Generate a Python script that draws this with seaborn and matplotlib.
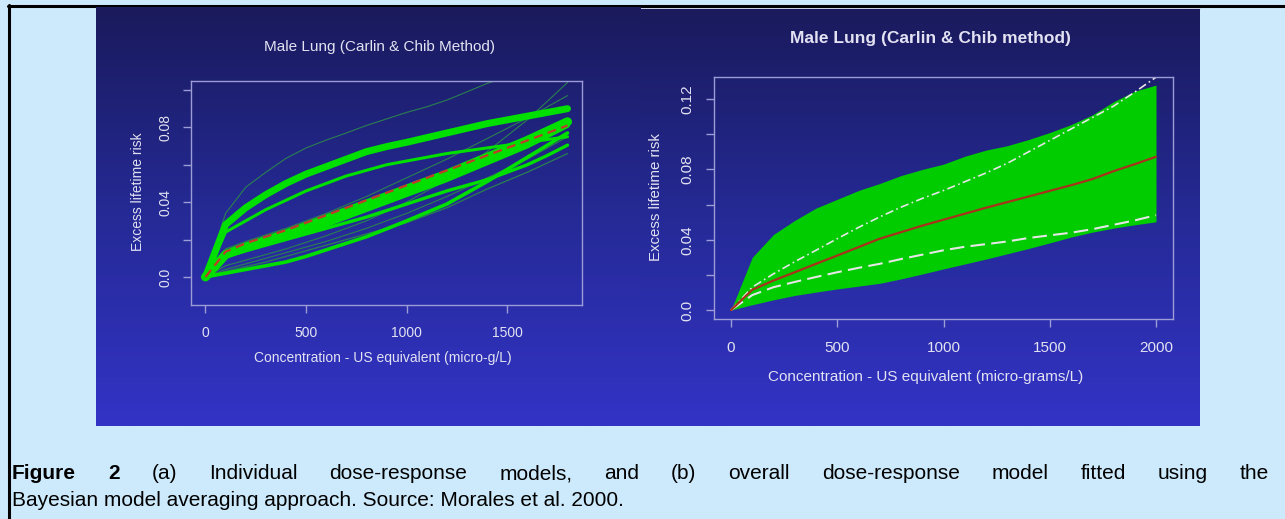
import numpy as np
import pandas as pd
import matplotlib
matplotlib.use("Agg")
import matplotlib.pyplot as plt
import seaborn as sns

# ---- data ----
# (a) individual dose-response models, concentration in micro-g/L
conc_a = list(range(0, 1801, 100))
thin_top = [0, .034, .048, .056, .0634, .069, .0732, .077, .081, .0845, .088,
            .091, .0946, .099, .1035, .107, .110, .113, .116]
thick_top = [0, .028, .037, .044, .050, .055, .059, .063, .067, .0697, .072,
             .0745, .077, .0795, .082, .084, .086, .088, .090]
upper_mid = [0, .024, .030, .036, .041, .046, .050, .054, .057, .060, .062,
             .064, .066, .0675, .069, .0705, .072, .0735, .075]
main_fit = [0, .012, .016, .0195, .023, .027, .031, .035, .039, .043, .047,
            .051, .055, .0595, .064, .0685, .073, .078, .083]
main_fit2 = [0, .011, .0145, .0178, .021, .0245, .028, .032, .036, .040, .044,
             .048, .052, .0565, .061, .0655, .070, .0755, .081]
lower_mid = [0, .011, .014, .017, .020, .023, .026, .029, .032, .0355, .039,
             .0425, .046, .049, .052, .056, .060, .065, .0705]
convex = [0, .002, .004, .006, .008, .011, .0145, .018, .0215, .0257, .030,
          .0345, .039, .045, .051, .0575, .064, .0705, .077]
thin_low = [0, .003, .0055, .008, .011, .014, .017, .020, .023, .026, .029,
            .033, .037, .042, .047, .0515, .056, .061, .066]
thin_mid = [0, .015, .019, .0225, .026, .030, .034, .0385, .043, .048, .053,
            .058, .063, .0685, .074, .0795, .085, .091, .097]
thin_steep = [0, .006, .009, .012, .015, .0185, .022, .026, .030, .035, .040,
              .046, .052, .0595, .067, .0755, .084, .094, .104]
thin_lowmid = [0, .004, .007, .010, .013, .016, .019, .0225, .026, .030, .034,
               .0385, .043, .048, .053, .058, .063, .069, .075]
mean_a = [0, .0135, .018, .0215, .025, .029, .033, .037, .041, .045, .049,
          .053, .057, .061, .065, .069, .073, .077, .081]

# (b) model-averaged fit, concentration in micro-grams/L
conc_b = list(range(0, 2001, 100))
band_hi = [0, .030, .043, .051, .058, .063, .068, .072, .0765, .080, .083,
           .0875, .091, .0935, .097, .101, .1055, .111, .1185, .1245, .128]
band_lo = [0, .003, .0058, .0083, .0102, .012, .0136, .0152, .0177, .0205, .0234,
           .0262, .029, .032, .035, .0382, .0415, .0443, .0466, .0485, .0502]
median_b = [0, .0115, .0168, .0215, .0263, .031, .0358, .0406, .0443, .048, .0514,
            .0548, .0582, .0614, .0646, .0678, .071, .0745, .079, .083, .0872]
upper_b = [0, .013, .0206, .0275, .034, .0406, .047, .053, .0585, .0635, .068,
           .073, .078, .0835, .090, .0965, .103, .1095, .116, .124, .1325]
lower_b = [0, .0085, .013, .016, .0188, .0215, .024, .0263, .029, .0315, .034,
           .036, .0375, .039, .041, .0425, .044, .046, .0485, .051, .054]

xticks_a = [0, 500, 1000, 1500]
xticks_b = [0, 500, 1000, 1500, 2000]
yticks_a = [0, .02, .04, .06, .08, .10]
ylabels_a = ["0.0", "", "0.04", "", "0.08", ""]
yticks_b = [0, .02, .04, .06, .08, .10, .12]
ylabels_b = ["0.0", "", "0.04", "", "0.08", "", "0.12"]

caption1_bold = "Figure 2"
caption1 = "(a) Individual dose-response models, and (b) overall dose-response model fitted using the"
caption2 = "Bayesian model averaging approach. Source: Morales et al. 2000."

# ---- styling ----
sns.set_theme(style="white")
plt.rcParams["font.family"] = ["Liberation Sans", "DejaVu Sans"]

W, H = 1285, 519
fig = plt.figure(figsize=(W / 100, H / 100), dpi=100)
fig.patch.set_facecolor("#cdeafc")


def box(x0, y0, x1, y1):
    # pixel box (top-left origin) -> figure fraction rect
    return [x0 / W, 1 - y1 / H, (x1 - x0) / W, (y1 - y0) / H]


def fx(x):
    return x / W


def fy(y):
    return 1 - y / H


# black frame lines at top and left
frame = fig.add_axes([0, 0, 1, 1])
frame.set_axis_off()
frame.set_xlim(0, W)
frame.set_ylim(H, 0)
frame.plot([8, W], [6, 6], color="black", lw=2.2)
frame.plot([9, 9], [5, H], color="black", lw=2.2)
frame.plot([641, 1200], [8.6, 8.6], color="#c8c8e0", lw=1.2)

# gradient panels
grad = np.linspace(0, 1, 256).reshape(-1, 1)
cmap = matplotlib.colors.LinearSegmentedColormap.from_list(
    "slide", ["#1a1a5c", "#252a96", "#3333c6"])
for rect in [box(96, 7, 641, 426), box(641, 9, 1200, 426)]:
    bg = fig.add_axes(rect)
    bg.imshow(grad, aspect="auto", cmap=cmap, extent=[0, 1, 0, 1])
    bg.set_axis_off()

spine_col = "#9c9cd6"
text_col = "#e2e2f2"


def style_axes(ax, xt, yt, ylab, xpad, ypad, fs):
    ax.set_facecolor("none")
    for s in ax.spines.values():
        s.set_color(spine_col)
        s.set_linewidth(1.0)
    ax.set_xticks(xt)
    ax.set_xticklabels([str(v) for v in xt])
    ax.set_yticks(yt)
    ax.set_yticklabels(ylab, rotation=90, va="center")
    ax.tick_params(axis="both", direction="out", length=6, width=1,
                   color=spine_col, labelcolor=text_col, labelsize=fs)
    ax.tick_params(axis="x", pad=xpad, bottom=True)
    ax.tick_params(axis="y", pad=ypad, left=True)
    ax.grid(False)
    ax.set_xlabel("")
    ax.set_ylabel("")


# ---- (a) individual models ----
ax1 = fig.add_axes(box(191, 81, 582, 305))
bright = "#00e000"
dark = "#2a7f50"
curves = [
    (thin_top, dark, 0.8),
    (thin_steep, dark, 0.8),
    (thin_mid, dark, 0.8),
    (thin_lowmid, dark, 0.8),
    (thin_low, dark, 0.9),
    (convex, bright, 2.6),
    (lower_mid, bright, 2.4),
    (upper_mid, bright, 2.2),
    (main_fit2, bright, 3.5),
    (main_fit, bright, 6.5),
    (thick_top, bright, 5.0),
]
for ys, col, lw in curves:
    sns.lineplot(x=conc_a, y=ys, ax=ax1, color=col, linewidth=lw,
                 solid_capstyle="round", solid_joinstyle="round")
sns.lineplot(x=conc_a, y=mean_a, ax=ax1, color="#c43a2a", linewidth=1.6,
             linestyle=(0, (4, 2.5)), zorder=5)
ax1.set_xlim(-72, 1872)
ax1.set_ylim(-0.015, 0.1048)
style_axes(ax1, xticks_a, yticks_a, ylabels_a, xpad=9, ypad=7, fs=10)

fig.text(fx(380), fy(47), "Male Lung (Carlin & Chib Method)", color=text_col,
         fontsize=11, ha="center", va="center")
fig.text(fx(383), fy(358), "Concentration - US equivalent (micro-g/L)",
         color=text_col, fontsize=10, ha="center", va="center")
fig.text(fx(138), fy(192), "Excess lifetime risk", color=text_col,
         fontsize=10, ha="center", va="center", rotation=90)

# ---- (b) model-averaged fit ----
ax2 = fig.add_axes(box(714, 77, 1173, 319))
ax2.fill_between(conc_b, band_lo, band_hi, color="#00cc00", linewidth=0)
sns.lineplot(x=conc_b, y=upper_b, ax=ax2, color="#e6e6e6", linewidth=1.2,
             linestyle=(0, (5, 2, 1, 2)))
sns.lineplot(x=conc_b, y=lower_b, ax=ax2, color="#e6e6e6", linewidth=1.5,
             linestyle=(0, (7, 3)))
sns.lineplot(x=conc_b, y=median_b, ax=ax2, color="#a8321c", linewidth=1.6)
ax2.set_xlim(-80, 2080)
ax2.set_ylim(-0.0051, 0.1326)
style_axes(ax2, xticks_b, yticks_b, ylabels_b, xpad=10, ypad=8, fs=11)

fig.text(fx(930), fy(39), "Male Lung (Carlin & Chib method)", color=text_col,
         fontsize=12.5, ha="center", va="center", fontweight="bold")
fig.text(fx(926), fy(377), "Concentration - US equivalent (micro-grams/L)",
         color=text_col, fontsize=11, ha="center", va="center")
fig.text(fx(656), fy(197), "Excess lifetime risk", color=text_col,
         fontsize=10.8, ha="center", va="center", rotation=90)

# ---- caption, first line justified ----
cap_fs = 15
renderer = fig.canvas.get_renderer()
items = [(w, "bold") for w in caption1_bold.split()] + \
        [(w, "normal") for w in caption1.split()]
texts = []
for w, wt in items:
    t = fig.text(0, fy(479), w, fontsize=cap_fs, fontweight=wt,
                 color="black", va="baseline", ha="left")
    texts.append(t)
widths = [t.get_window_extent(renderer).width for t in texts]
x_left, x_right = 12, 1269
gap = (x_right - x_left - sum(widths)) / (len(texts) - 1)
x = x_left
for t, wd in zip(texts, widths):
    t.set_x(fx(x))
    x += wd + gap
fig.text(fx(12), fy(506), caption2, fontsize=cap_fs, color="black",
         va="baseline", ha="left")

fig.savefig("out.png", dpi=100, facecolor=fig.get_facecolor())
